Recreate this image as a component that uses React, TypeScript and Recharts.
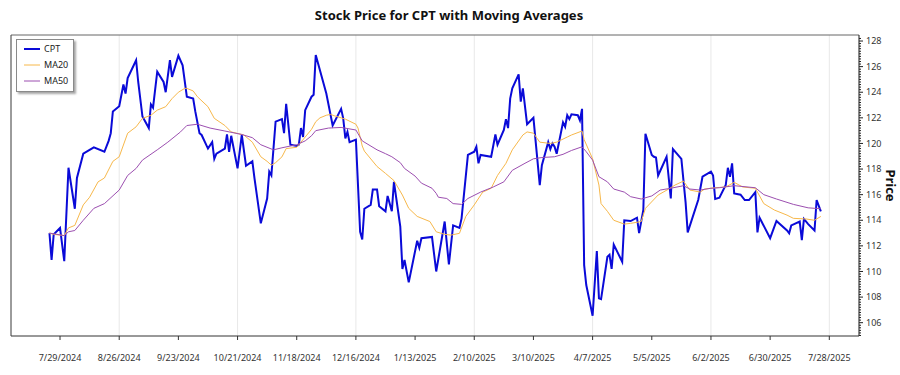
import React from "react";
import {
  CartesianGrid,
  Legend,
  Line,
  LineChart,
  XAxis,
  YAxis,
} from "recharts";

const cptDates = [
  "2024-07-24", "2024-07-25", "2024-07-26", "2024-07-29", "2024-07-31", "2024-08-02", "2024-08-05", "2024-08-06",
  "2024-08-09", "2024-08-12", "2024-08-14", "2024-08-19", "2024-08-21", "2024-08-22", "2024-08-23", "2024-08-26",
  "2024-08-28", "2024-08-29", "2024-08-30", "2024-09-03", "2024-09-04", "2024-09-06", "2024-09-09", "2024-09-10",
  "2024-09-11", "2024-09-13", "2024-09-16", "2024-09-17", "2024-09-19", "2024-09-20", "2024-09-23", "2024-09-25",
  "2024-09-27", "2024-09-30", "2024-10-01", "2024-10-03", "2024-10-04", "2024-10-07", "2024-10-09", "2024-10-10",
  "2024-10-11", "2024-10-15", "2024-10-16", "2024-10-17", "2024-10-18", "2024-10-21", "2024-10-23", "2024-10-25",
  "2024-10-28", "2024-10-29", "2024-11-01", "2024-11-04", "2024-11-05", "2024-11-06", "2024-11-08", "2024-11-11",
  "2024-11-12", "2024-11-13", "2024-11-15", "2024-11-18", "2024-11-19", "2024-11-20", "2024-11-21", "2024-11-22",
  "2024-11-25", "2024-11-26", "2024-11-27", "2024-12-02", "2024-12-05", "2024-12-09", "2024-12-10", "2024-12-11",
  "2024-12-12", "2024-12-13", "2024-12-16", "2024-12-18", "2024-12-19", "2024-12-20", "2024-12-23", "2024-12-24",
  "2024-12-26", "2024-12-27", "2024-12-30", "2024-12-31", "2025-01-02", "2025-01-03", "2025-01-06", "2025-01-07",
  "2025-01-08", "2025-01-10", "2025-01-14", "2025-01-15", "2025-01-16", "2025-01-21", "2025-01-23", "2025-01-27",
  "2025-01-29", "2025-01-31", "2025-02-03", "2025-02-04", "2025-02-07", "2025-02-10", "2025-02-11", "2025-02-12",
  "2025-02-13", "2025-02-18", "2025-02-20", "2025-02-21", "2025-02-24", "2025-02-25", "2025-02-26", "2025-02-27",
  "2025-02-28", "2025-03-03", "2025-03-04", "2025-03-05", "2025-03-07", "2025-03-10", "2025-03-13", "2025-03-14",
  "2025-03-17", "2025-03-18", "2025-03-19", "2025-03-20", "2025-03-21", "2025-03-24", "2025-03-25", "2025-03-26",
  "2025-03-27", "2025-03-28", "2025-03-31", "2025-04-01", "2025-04-02", "2025-04-03", "2025-04-04", "2025-04-07",
  "2025-04-09", "2025-04-10", "2025-04-11", "2025-04-14", "2025-04-15", "2025-04-16", "2025-04-17", "2025-04-21",
  "2025-04-22", "2025-04-25", "2025-04-28", "2025-04-29", "2025-05-01", "2025-05-02", "2025-05-05", "2025-05-06",
  "2025-05-07", "2025-05-08", "2025-05-12", "2025-05-14", "2025-05-15", "2025-05-19", "2025-05-21", "2025-05-22",
  "2025-05-27", "2025-05-29", "2025-06-02", "2025-06-03", "2025-06-04", "2025-06-06", "2025-06-09", "2025-06-10",
  "2025-06-11", "2025-06-12", "2025-06-13", "2025-06-16", "2025-06-18", "2025-06-20", "2025-06-23", "2025-06-24",
  "2025-06-25", "2025-06-30", "2025-07-03", "2025-07-08", "2025-07-09", "2025-07-10", "2025-07-14", "2025-07-15",
  "2025-07-16", "2025-07-18", "2025-07-21", "2025-07-22", "2025-07-24",
];

const cptPrices = [
  113.0, 110.9, 112.9, 113.4, 110.8, 118.1, 114.9, 117.3,
  119.2, 119.5, 119.7, 119.35, 120.2, 120.8, 122.5, 122.9,
  124.6, 123.9, 125.1, 126.5, 124.8, 122.1, 121.2, 123.05,
  122.8, 125.6, 124.8, 124.0, 126.5, 125.2, 126.85, 126.1,
  123.65, 123.5, 122.5, 120.8, 120.66, 119.6, 120.1, 118.8,
  119.2, 119.6, 120.7, 119.35, 120.6, 118.05, 120.66, 118.26,
  118.6, 117.3, 113.76, 115.7, 117.8, 117.5, 121.7, 121.9,
  120.8, 123.1, 119.9, 119.8, 119.9, 121.2, 120.5, 122.6,
  123.65, 123.8, 126.9, 123.9, 121.4, 122.7, 121.96, 120.4,
  120.9, 120.1, 120.3, 113.1, 112.5, 114.9, 115.2, 116.4,
  116.4, 115.1, 114.7, 115.9, 114.7, 117.0, 113.5, 110.2,
  110.9, 109.15, 112.4, 111.85, 112.6, 112.7, 110.0, 113.9,
  110.55, 113.6, 113.4, 114.15, 119.1, 119.35, 119.74, 118.45,
  119.1, 118.96, 120.7, 119.9, 121.05, 121.9, 121.2, 123.5,
  124.3, 125.4, 123.26, 124.3, 121.5, 122.0, 116.75, 118.3,
  120.1, 119.56, 120.0, 119.74, 119.2, 121.65, 121.3, 122.2,
  121.9, 122.27, 122.2, 121.8, 122.7, 110.5, 108.94, 106.54,
  111.6, 107.9, 107.84, 111.15, 111.3, 110.2, 112.1, 110.76,
  114.0, 113.94, 114.2, 113.0, 114.8, 120.76, 119.1, 118.96,
  118.9, 117.5, 118.96, 115.7, 119.56, 118.8, 115.4, 113.05,
  115.6, 117.4, 117.8, 117.5, 115.66, 115.76, 116.75, 118.1,
  117.4, 118.45, 116.1, 116.0, 115.58, 115.58, 116.2, 113.05,
  114.2, 112.6, 113.94, 113.2, 112.98, 113.6, 113.9, 112.45,
  114.1, 113.7, 113.2, 115.58, 114.7,
];

const ma20Dates = [
  "2024-07-24", "2024-07-26", "2024-07-31", "2024-08-02", "2024-08-05", "2024-08-09", "2024-08-12", "2024-08-16",
  "2024-08-19", "2024-08-23", "2024-08-26", "2024-08-30", "2024-09-03", "2024-09-06", "2024-09-10", "2024-09-13",
  "2024-09-17", "2024-09-20", "2024-09-23", "2024-09-26", "2024-09-27", "2024-09-30", "2024-10-02", "2024-10-07",
  "2024-10-10", "2024-10-15", "2024-10-18", "2024-10-24", "2024-10-28", "2024-11-01", "2024-11-04", "2024-11-06",
  "2024-11-08", "2024-11-11", "2024-11-13", "2024-11-18", "2024-11-20", "2024-11-22", "2024-11-25", "2024-11-27",
  "2024-11-29", "2024-12-02", "2024-12-04", "2024-12-06", "2024-12-11", "2024-12-16", "2024-12-17", "2024-12-19",
  "2024-12-20", "2024-12-26", "2024-12-30", "2025-01-03", "2025-01-07", "2025-01-10", "2025-01-14", "2025-01-20",
  "2025-01-23", "2025-01-27", "2025-01-30", "2025-02-03", "2025-02-06", "2025-02-10", "2025-02-14", "2025-02-18",
  "2025-02-21", "2025-02-25", "2025-02-28", "2025-03-05", "2025-03-07", "2025-03-10", "2025-03-13", "2025-03-18",
  "2025-03-21", "2025-03-26", "2025-03-28", "2025-04-02", "2025-04-03", "2025-04-07", "2025-04-10", "2025-04-11",
  "2025-04-14", "2025-04-17", "2025-04-22", "2025-04-25", "2025-04-30", "2025-05-02", "2025-05-08", "2025-05-13",
  "2025-05-16", "2025-05-20", "2025-05-23", "2025-05-28", "2025-05-30", "2025-06-04", "2025-06-09", "2025-06-13",
  "2025-06-17", "2025-06-23", "2025-06-27", "2025-07-02", "2025-07-08", "2025-07-11", "2025-07-17", "2025-07-21",
  "2025-07-24",
];

const ma20Values = [
  113.0, 112.9, 112.8, 113.4, 113.6, 115.2, 115.8, 117.0,
  117.3, 118.6, 118.96, 120.8, 121.3, 121.96, 122.2, 122.6,
  122.87, 123.5, 124.0, 124.3, 124.3, 124.1, 123.65, 122.87,
  121.96, 121.4, 120.9, 120.66, 120.1, 118.96, 118.6, 118.3,
  118.5, 118.95, 119.6, 119.7, 120.1, 120.5, 121.1, 121.7,
  122.0, 122.2, 122.27, 122.15, 121.9, 121.5, 121.2, 119.8,
  119.4, 118.2, 117.66, 117.1, 115.97, 114.93, 114.3, 113.9,
  113.1, 112.9, 112.84, 112.98, 114.3, 115.2, 116.2, 116.5,
  117.5, 118.45, 119.5, 120.66, 120.9, 120.8, 120.1, 120.0,
  120.1, 120.5, 120.66, 120.97, 120.3, 118.8, 116.75, 115.3,
  114.7, 114.0, 113.7, 113.76, 113.9, 114.93, 115.97, 116.44,
  116.75, 117.06, 116.36, 116.2, 116.44, 116.54, 116.6, 116.96,
  116.6, 116.5, 115.3, 114.8, 114.4, 114.15, 114.1, 114.0,
  114.3,
];

const ma50Dates = [
  "2024-07-24", "2024-07-31", "2024-08-02", "2024-08-05", "2024-08-09", "2024-08-14", "2024-08-19", "2024-08-26",
  "2024-08-30", "2024-09-03", "2024-09-06", "2024-09-13", "2024-09-18", "2024-09-24", "2024-09-27", "2024-10-02",
  "2024-10-08", "2024-10-15", "2024-10-23", "2024-10-28", "2024-11-01", "2024-11-07", "2024-11-11", "2024-11-18",
  "2024-11-22", "2024-11-25", "2024-11-27", "2024-12-03", "2024-12-09", "2024-12-16", "2024-12-19", "2024-12-26",
  "2024-12-30", "2025-01-02", "2025-01-06", "2025-01-08", "2025-01-13", "2025-01-16", "2025-01-21", "2025-01-23",
  "2025-01-24", "2025-01-28", "2025-01-31", "2025-02-04", "2025-02-07", "2025-02-13", "2025-02-19", "2025-02-24",
  "2025-02-28", "2025-03-06", "2025-03-10", "2025-03-14", "2025-03-20", "2025-03-24", "2025-03-28", "2025-04-02",
  "2025-04-04", "2025-04-07", "2025-04-10", "2025-04-14", "2025-04-17", "2025-04-22", "2025-04-25", "2025-04-30",
  "2025-05-05", "2025-05-09", "2025-05-14", "2025-05-20", "2025-05-23", "2025-05-28", "2025-06-02", "2025-06-06",
  "2025-06-13", "2025-06-23", "2025-06-27", "2025-07-03", "2025-07-11", "2025-07-18", "2025-07-24",
];

const ma50Values = [
  113.0, 112.8, 113.1, 113.2, 114.0, 114.93, 115.3, 116.36,
  117.5, 118.05, 118.7, 119.5, 120.1, 120.9, 121.4, 121.5,
  121.2, 120.97, 120.7, 120.45, 119.9, 119.5, 119.66, 119.9,
  120.2, 120.6, 121.0, 121.2, 121.25, 121.05, 120.2, 119.5,
  119.2, 118.96, 118.5, 118.05, 117.45, 116.9, 116.5, 116.1,
  115.8, 115.7, 115.3, 115.24, 115.7, 116.2, 116.6, 117.0,
  117.9, 118.45, 118.8, 118.9, 118.96, 119.15, 119.45, 119.74,
  119.35, 118.7, 117.4, 117.0, 116.44, 116.2, 115.84, 115.66,
  115.9, 116.36, 116.5, 116.7, 116.44, 116.36, 116.5, 116.54,
  116.7, 116.54, 116.0, 115.66, 115.24, 114.97, 114.9,
];

const xTickDates = [
  "2024-07-29", "2024-08-26", "2024-09-23", "2024-10-21", "2024-11-18", "2024-12-16", "2025-01-13",
  "2025-02-10", "2025-03-10", "2025-04-07", "2025-05-05", "2025-06-02", "2025-06-30", "2025-07-28",
];

const yMajorTicks = [106, 108, 110, 112, 114, 116, 118, 120, 122, 124, 126, 128];

const DAY = 86400000;
const ts = (s: string) => Date.parse(s + "T00:00:00Z");

const cptData = cptDates.map((d, i) => ({ t: ts(d), v: cptPrices[i] }));
const ma20Data = ma20Dates.map((d, i) => ({ t: ts(d), v: ma20Values[i] }));
const ma50Data = ma50Dates.map((d, i) => ({ t: ts(d), v: ma50Values[i] }));
const xTicks = xTickDates.map(ts);

const X_DOMAIN = [ts("2024-07-29") - 23.2 * DAY, ts("2024-07-29") + 378.05 * DAY];
const Y_DOMAIN = [104.96, 128.47];

// major ticks plus small minor marks every 0.2
const yTicks: number[] = [];
for (let v = 105; v <= 128.4; v += 0.2) yTicks.push(Math.round(v * 10) / 10);

const FONT = "'Segoe UI', 'Noto Sans', 'DejaVu Sans', sans-serif";

const COLORS = { cpt: "#0a0ad8", ma20: "#f7b84b", ma50: "#9c4fb0" };

const formatDate = (v: number) => {
  const d = new Date(v);
  return `${d.getUTCMonth() + 1}/${d.getUTCDate()}/${d.getUTCFullYear()}`;
};

function PriceTick(props: any) {
  const { x, y, payload } = props;
  const major = yMajorTicks.includes(payload.value);
  return (
    <g>
      <line x1={x} y1={y} x2={x + (major ? 4 : 2)} y2={y} stroke="#222" strokeWidth={1} />
      {major && (
        <text x={x + 7} y={y} dy="0.35em" fontSize={9} fill="#333" fontFamily={FONT}>
          {payload.value}
        </text>
      )}
    </g>
  );
}

function LegendBox() {
  const items = [
    { name: "CPT", color: COLORS.cpt, width: 2 },
    { name: "MA20", color: COLORS.ma20, width: 1 },
    { name: "MA50", color: COLORS.ma50, width: 1 },
  ];
  return (
    <div
      style={{
        width: 58,
        height: 53,
        boxSizing: "border-box",
        border: "1px solid #8a8a8a",
        background: "#fff",
        boxShadow: "2px 2px 2px rgba(0,0,0,0.35)",
        paddingTop: 1,
        fontFamily: FONT,
      }}
    >
      {items.map((it) => (
        <div key={it.name} style={{ display: "flex", alignItems: "center", height: 16 }}>
          <svg width={16} height={16} style={{ marginLeft: 7 }}>
            <line x1={0} y1={8} x2={16} y2={8} stroke={it.color} strokeWidth={it.width} />
          </svg>
          <span style={{ marginLeft: 4, fontSize: 9, color: "#222", lineHeight: "16px" }}>{it.name}</span>
        </div>
      ))}
    </div>
  );
}

export default function App() {
  return (
    <div style={{ position: "relative", width: 900, height: 375, background: "#fff" }}>
      <style>{"body{margin:0}"}</style>
      <div
        style={{
          position: "absolute",
          top: 6,
          left: 0,
          width: 898,
          textAlign: "center",
          fontFamily: FONT,
          fontWeight: 700,
          fontSize: 13,
          lineHeight: "18px",
          color: "#111",
        }}
      >
        Stock Price for CPT with Moving Averages
      </div>
      <LineChart width={900} height={375} margin={{ top: 34, right: 0, bottom: 0, left: 10 }}>
        <CartesianGrid horizontal={false} stroke="#e8e8e8" xAxisId="date" yAxisId="price" />
        <XAxis
          xAxisId="date"
          dataKey="t"
          type="number"
          domain={X_DOMAIN}
          allowDataOverflow
          ticks={xTicks}
          tickFormatter={formatDate}
          height={39}
          tickSize={4}
          tickMargin={15}
          axisLine={{ stroke: "#333" }}
          tickLine={{ stroke: "#333" }}
          tick={{ fontSize: 9, fill: "#333", fontFamily: FONT }}
        />
        <XAxis
          xAxisId="top"
          orientation="top"
          dataKey="t"
          type="number"
          domain={X_DOMAIN}
          allowDataOverflow
          height={1}
          tick={false}
          tickLine={false}
          axisLine={{ stroke: "#666" }}
        />
        <YAxis
          yAxisId="frame"
          orientation="left"
          type="number"
          domain={Y_DOMAIN}
          allowDataOverflow
          width={1}
          tick={false}
          tickLine={false}
          axisLine={{ stroke: "#444" }}
        />
        <YAxis
          yAxisId="price"
          orientation="right"
          type="number"
          domain={Y_DOMAIN}
          allowDataOverflow
          ticks={yTicks}
          interval={0}
          width={41}
          tickSize={0}
          tickMargin={0}
          tickLine={false}
          axisLine={{ stroke: "#222" }}
          tick={<PriceTick />}
          label={{
            value: "Price",
            angle: 90,
            position: "insideRight",
            dx: -4,
            style: { fontSize: 13, fontWeight: 700, fill: "#111", fontFamily: FONT, textAnchor: "middle" },
          }}
        />
        <Legend
          verticalAlign="middle"
          layout="horizontal"
          content={() => <LegendBox />}
          wrapperStyle={{ top: 39, left: 16, width: 60 }}
        />
        <Line
          xAxisId="date"
          yAxisId="price"
          data={cptData}
          dataKey="v"
          name="CPT"
          type="linear"
          stroke={COLORS.cpt}
          strokeWidth={2}
          dot={false}
          isAnimationActive={false}
        />
        <Line
          xAxisId="date"
          yAxisId="price"
          data={ma20Data}
          dataKey="v"
          name="MA20"
          type="linear"
          stroke={COLORS.ma20}
          strokeWidth={1}
          dot={false}
          isAnimationActive={false}
        />
        <Line
          xAxisId="date"
          yAxisId="price"
          data={ma50Data}
          dataKey="v"
          name="MA50"
          type="linear"
          stroke={COLORS.ma50}
          strokeWidth={1}
          dot={false}
          isAnimationActive={false}
        />
      </LineChart>
    </div>
  );
}
